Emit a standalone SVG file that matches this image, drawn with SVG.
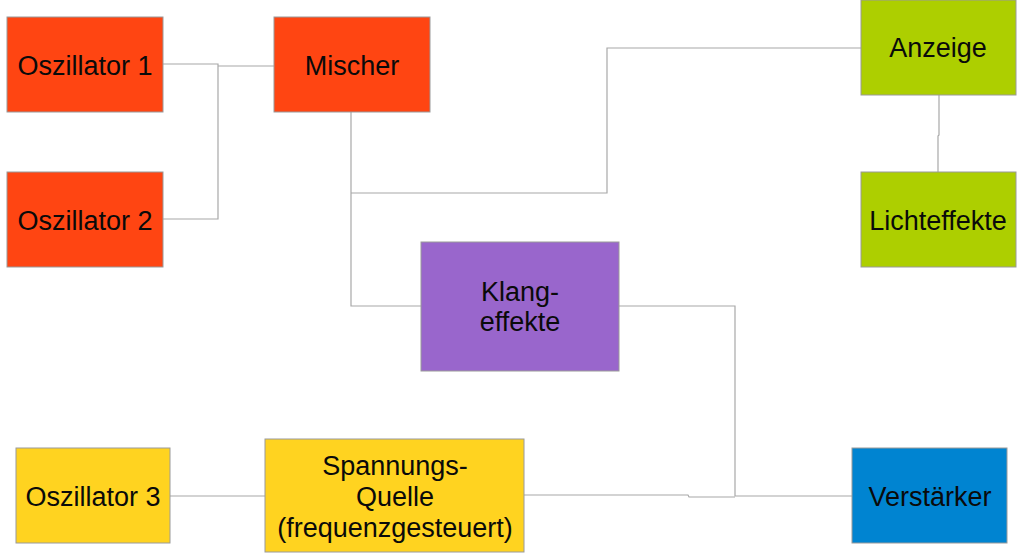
<svg xmlns="http://www.w3.org/2000/svg" width="1024" height="559" viewBox="0 0 1024 559">
<style>
.box{stroke:#9a9a9a;stroke-width:1}
.red{fill:#FF4512}
.grn{fill:#ADCF00}
.pur{fill:#9966CC}
.yel{fill:#FFD320}
.blu{fill:#0084D1}
text{font-family:"Liberation Sans",Arial,sans-serif;font-size:27px;fill:#0a0a0a;text-anchor:middle}
.wire{fill:none;stroke:#a8a8a8;stroke-width:1.2}
</style>
<rect width="1024" height="559" fill="#ffffff"/>
<g id="connectors">
<polyline class="wire" points="163,64 218,64 218,219 163,219"/>
<polyline class="wire" points="218,66 274,66"/>
<polyline class="wire" points="351,112 351,306 421,306"/>
<polyline class="wire" points="351,193 607,193 607,48 861,48"/>
<polyline class="wire" points="939,95 939,135 938,136 938,172"/>
<polyline class="wire" points="619,306 735,306 735,496 852,496"/>
<polyline class="wire" points="170,496 265,496"/>
<polyline class="wire" points="524,495 688,495 689,497 735,497"/>
</g>
<g id="osz1"><rect class="box red" x="7" y="17" width="156" height="95"/><text x="85" y="75">Oszillator 1</text></g>
<g id="osz2"><rect class="box red" x="7" y="172" width="156" height="95"/><text x="85" y="230">Oszillator 2</text></g>
<g id="mischer"><rect class="box red" x="274" y="17" width="156" height="95"/><text x="352" y="75">Mischer</text></g>
<g id="anzeige"><rect class="box grn" x="861" y="0" width="155" height="95"/><text x="938" y="57">Anzeige</text></g>
<g id="licht"><rect class="box grn" x="861" y="172" width="155" height="95"/><text x="938" y="230">Lichteffekte</text></g>
<g id="klang"><rect class="box pur" x="421" y="242" width="198" height="129"/><text x="520" y="301">Klang-</text><text x="520" y="331">effekte</text></g>
<g id="osz3"><rect class="box yel" x="16" y="448" width="154" height="95"/><text x="93" y="506">Oszillator 3</text></g>
<g id="spannung"><rect class="box yel" x="265" y="439" width="259" height="113"/><text x="395" y="475">Spannungs-</text><text x="395" y="506">Quelle</text><text x="395" y="537">(frequenzgesteuert)</text></g>
<g id="verstaerker"><rect class="box blu" x="852" y="448" width="155" height="95"/><text x="930" y="506">Verstärker</text></g>
</svg>
